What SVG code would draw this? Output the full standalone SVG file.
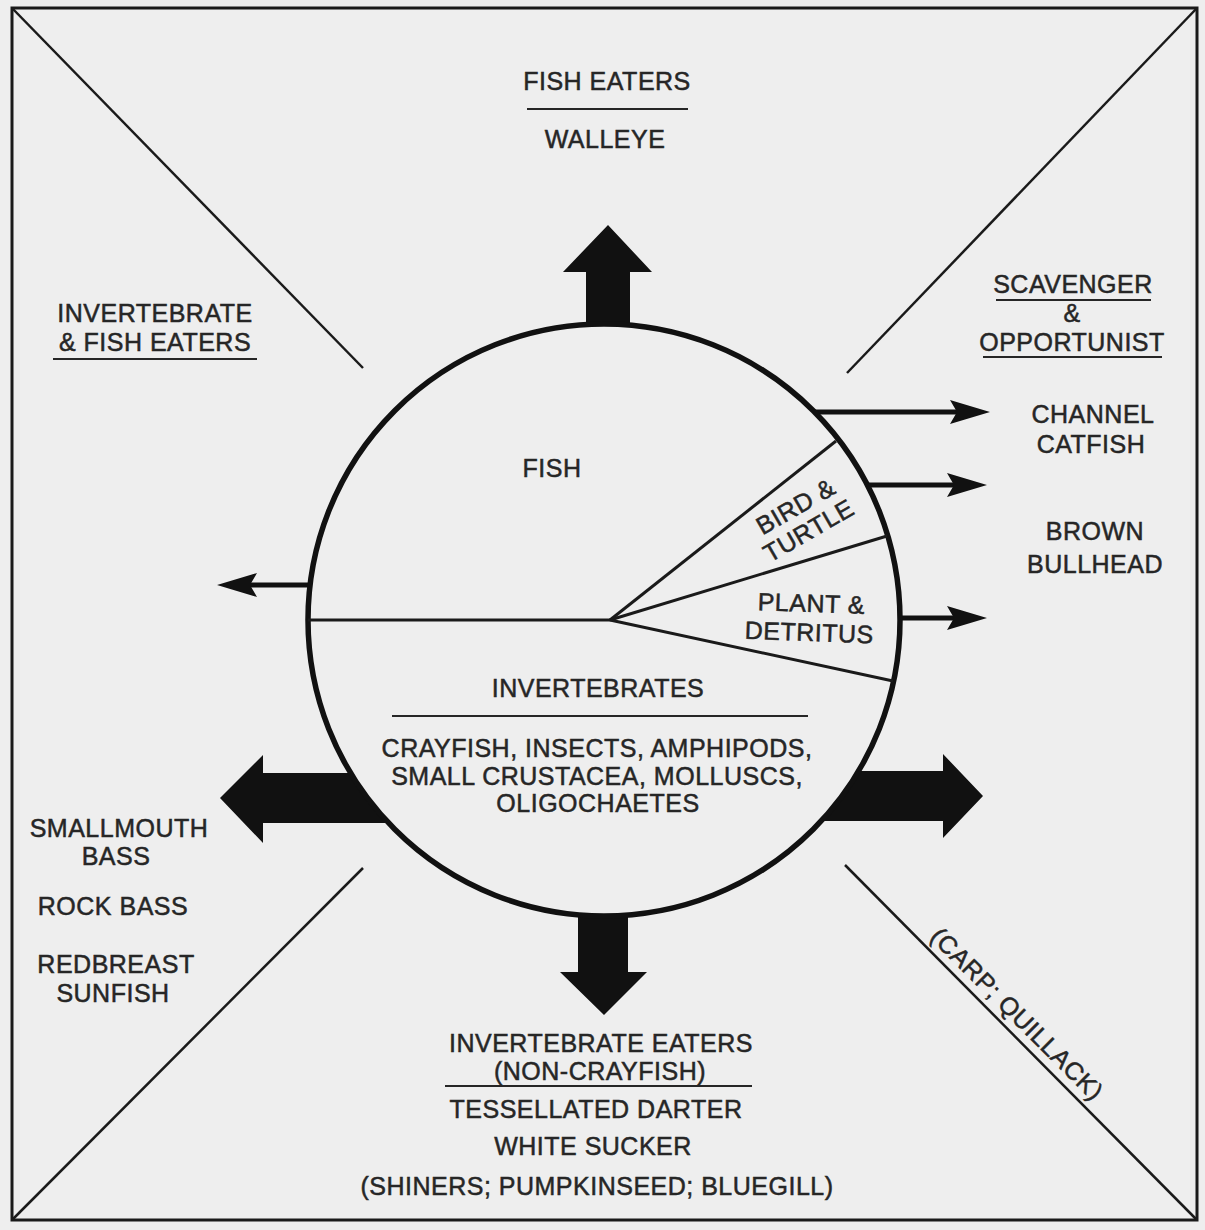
<svg xmlns="http://www.w3.org/2000/svg" width="1205" height="1230" viewBox="0 0 1205 1230">
<style>
  .bg{fill:#eeeeee}
  .frame{fill:none;stroke:#1a1a1a;stroke-width:3}
  .diag{stroke:#1a1a1a;stroke-width:2.5;fill:none}
  .t{font-family:"Liberation Sans",Arial,sans-serif;font-size:25px;letter-spacing:0.5px;fill:#262626;stroke:#262626;stroke-width:0.5;text-anchor:middle}
  .rule{stroke:#262626;stroke-width:2.2}
  .block{fill:#111111}
  .thin{stroke:#111111;stroke-width:5;fill:none}
  .pie{stroke:#1a1a1a;stroke-width:3;fill:none}
</style>
<defs>
  <marker id="head" markerUnits="userSpaceOnUse" markerWidth="42" markerHeight="26" refX="20" refY="12" orient="auto" viewBox="0 0 42 26">
    <path d="M0,0 L40,12 L0,24 L7,12 Z" fill="#111111"/>
  </marker>
</defs>
<rect class="bg" x="0" y="0" width="1205" height="1230"/>
<g id="frame">
  <rect class="frame" x="12" y="8" width="1185" height="1212"/>
  <line class="diag" x1="12" y1="8" x2="363" y2="368"/>
  <line class="diag" x1="1197" y1="8" x2="847" y2="373"/>
  <line class="diag" x1="363" y1="868" x2="12" y2="1220"/>
  <line class="diag" x1="845" y1="865" x2="1197" y2="1220"/>
</g>
<g id="connectors">
  <polygon class="block" points="608,225 652,272 630,272 630,345 586,345 586,272 563,272"/>
  <polygon class="block" points="578,895 628,895 628,972 647,972 604,1015 560,972 578,972"/>
  <polygon class="block" points="220,798 263,755 263,773 400,773 400,823 263,823 263,843"/>
  <polygon class="block" points="983,796 943,754 943,771 820,771 820,821 943,821 943,838"/>
  <line class="thin" x1="812" y1="412" x2="970" y2="412" marker-end="url(#head)"/>
  <line class="thin" x1="862" y1="485" x2="967" y2="485" marker-end="url(#head)"/>
  <line class="thin" x1="894" y1="618" x2="967" y2="618" marker-end="url(#head)"/>
  <line class="thin" x1="312" y1="585" x2="237" y2="585" marker-end="url(#head)"/>
</g>
<g id="diet-circle">
  <circle cx="604" cy="620" r="296" fill="#eeeeee" stroke="#111111" stroke-width="5.5"/>
  <line class="pie" x1="308" y1="620" x2="610" y2="620"/>
  <line class="pie" x1="610" y1="620" x2="836" y2="441"/>
  <line class="pie" x1="610" y1="620" x2="887" y2="536"/>
  <line class="pie" x1="610" y1="620" x2="893" y2="681"/>
  <text class="t" x="552" y="477">FISH</text>
  <text class="t" font-size="23" transform="translate(800,514) rotate(-30)">BIRD &amp;</text>
  <text class="t" font-size="23" transform="translate(813,538) rotate(-30)">TURTLE</text>
  <text class="t" font-size="23" transform="translate(811,612) rotate(2)">PLANT &amp;</text>
  <text class="t" font-size="23" transform="translate(809,641) rotate(2)">DETRITUS</text>
  <text class="t" x="598" y="697">INVERTEBRATES</text>
  <line class="rule" x1="392" y1="716" x2="808" y2="716"/>
  <text class="t" x="597" y="757">CRAYFISH, INSECTS, AMPHIPODS,</text>
  <text class="t" x="597" y="785">SMALL CRUSTACEA, MOLLUSCS,</text>
  <text class="t" x="598" y="812">OLIGOCHAETES</text>
</g>
<g id="fish-eaters">
  <text class="t" x="607" y="90">FISH EATERS</text>
  <line class="rule" x1="527" y1="109" x2="688" y2="109"/>
  <text class="t" x="605" y="148">WALLEYE</text>
</g>
<g id="invertebrate-fish-eaters">
  <text class="t" x="155" y="322">INVERTEBRATE</text>
  <text class="t" x="155" y="351">&amp; FISH EATERS</text>
  <line class="rule" x1="53" y1="359" x2="257" y2="359"/>
</g>
<g id="scavenger-opportunist">
  <text class="t" x="1073" y="293">SCAVENGER</text>
  <line class="rule" x1="996" y1="300" x2="1151" y2="300"/>
  <text class="t" x="1072" y="322">&amp;</text>
  <text class="t" x="1072" y="351">OPPORTUNIST</text>
  <line class="rule" x1="983" y1="357" x2="1162" y2="357"/>
  <text class="t" x="1093" y="423">CHANNEL</text>
  <text class="t" x="1091" y="453">CATFISH</text>
  <text class="t" x="1095" y="540">BROWN</text>
  <text class="t" x="1095" y="573">BULLHEAD</text>
</g>
<g id="bass-group">
  <text class="t" x="119" y="837">SMALLMOUTH</text>
  <text class="t" x="116" y="865">BASS</text>
  <text class="t" x="113" y="915">ROCK BASS</text>
  <text class="t" x="116" y="973">REDBREAST</text>
  <text class="t" x="113" y="1002">SUNFISH</text>
</g>
<g id="invertebrate-eaters">
  <text class="t" x="601" y="1052">INVERTEBRATE EATERS</text>
  <text class="t" x="600" y="1080">(NON-CRAYFISH)</text>
  <line class="rule" x1="445" y1="1086" x2="752" y2="1086"/>
  <text class="t" x="596" y="1118">TESSELLATED DARTER</text>
  <text class="t" x="593" y="1155">WHITE SUCKER</text>
  <text class="t" x="597" y="1195">(SHINERS; PUMPKINSEED; BLUEGILL)</text>
</g>
<g id="carp-quillack">
  <text class="t" font-size="24" letter-spacing="1" transform="translate(1011,1020) rotate(45)">(CARP; QUILLACK)</text>
</g>
</svg>
